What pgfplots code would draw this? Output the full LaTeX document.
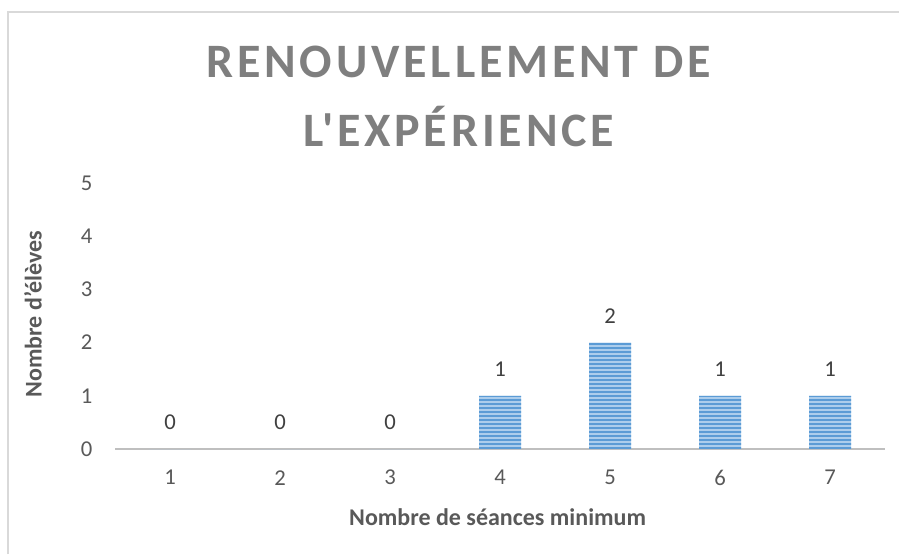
\documentclass[border=0pt]{standalone}
\usepackage{fontspec}
\setmainfont{Carlito}
\newfontfamily\titlefont[LetterSpace=8]{Carlito}
\usepackage{pgfplots}
\pgfplotsset{compat=1.18}
\usetikzlibrary{patterns}
\definecolor{barlight}{RGB}{172,205,236}
\definecolor{bardark}{RGB}{91,155,213}
\definecolor{txtgray}{RGB}{89,89,89}
\definecolor{ttlgray}{RGB}{127,127,127}
\definecolor{axgray}{RGB}{191,191,191}
\definecolor{brdgray}{RGB}{217,217,217}
\definecolor{lblgray}{RGB}{64,64,64}
\pgfdeclarepatternformonly{hstripes}{\pgfqpoint{0pt}{0pt}}{\pgfqpoint{1pt}{3.3pt}}{\pgfqpoint{1pt}{3.3pt}}{%
  \pgfpathrectangle{\pgfqpoint{0pt}{0pt}}{\pgfqpoint{1pt}{1.5pt}}\pgfusepath{fill}}
\pgfplotstableread{
x y
1 0
2 0
3 0
4 1
5 2
6 1
7 1
}\datatable
\begin{document}
\begin{tikzpicture}
\path[use as bounding box] (0,0) rectangle (674.25pt,415.5pt);
\draw[brdgray, line width=1pt] (6pt,0pt) -- (6pt,406.5pt) -- (674.25pt,406.5pt);
\begin{axis}[
  at={(86.25pt,78.75pt)}, anchor=south west,
  scale only axis, width=577.5pt, height=199.5pt,
  xmin=0.5, xmax=7.5, ymin=0, ymax=5,
  axis y line=none,
  axis x line*=bottom,
  x axis line style={axgray, line width=1.5pt, -},
  xtick={1,...,7}, ytick={0,...,5},
  major tick length=0pt,
  clip=false,
  ticklabel style={font=\fontsize{17}{20}\selectfont, text=txtgray},
  /pgf/number format/assume math mode=true,
  xticklabel style={anchor=center, yshift=-21.5pt},
  xlabel={Nombre de séances minimum},
  xlabel style={font=\bfseries\fontsize{18}{21}\selectfont, text=txtgray, anchor=center, at={(axis description cs:0.497,0)}, yshift=-51pt},
  ybar, bar width=31.5pt,
  nodes near coords,
  nodes near coords style={font=\fontsize{17}{20}\selectfont, text=lblgray, anchor=center, yshift=20pt},
]
\addplot[draw=none, fill=barlight, postaction={pattern=hstripes, pattern color=bardark}] table[x=x,y=y] {\datatable};
\pgfplotsinvokeforeach{0,1,2,3,4,5}{
  \node[font=\fontsize{17}{20}\selectfont, text=txtgray, anchor=east] at (axis cs:0.5,#1) [xshift=-13.5pt] {#1};
}
\end{axis}
\node[font=\bfseries\fontsize{18}{21}\selectfont, text=txtgray, rotate=90] at (24.75pt,180pt) {Nombre d'élèves};
\node[font=\titlefont\bfseries\fontsize{36}{40}\selectfont, text=ttlgray] at (344pt,369pt) {RENOUVELLEMENT DE};
\node[font=\titlefont\bfseries\fontsize{36}{40}\selectfont, text=ttlgray] at (344pt,320.25pt) {L'EXPÉRIENCE};
\end{tikzpicture}
\end{document}
